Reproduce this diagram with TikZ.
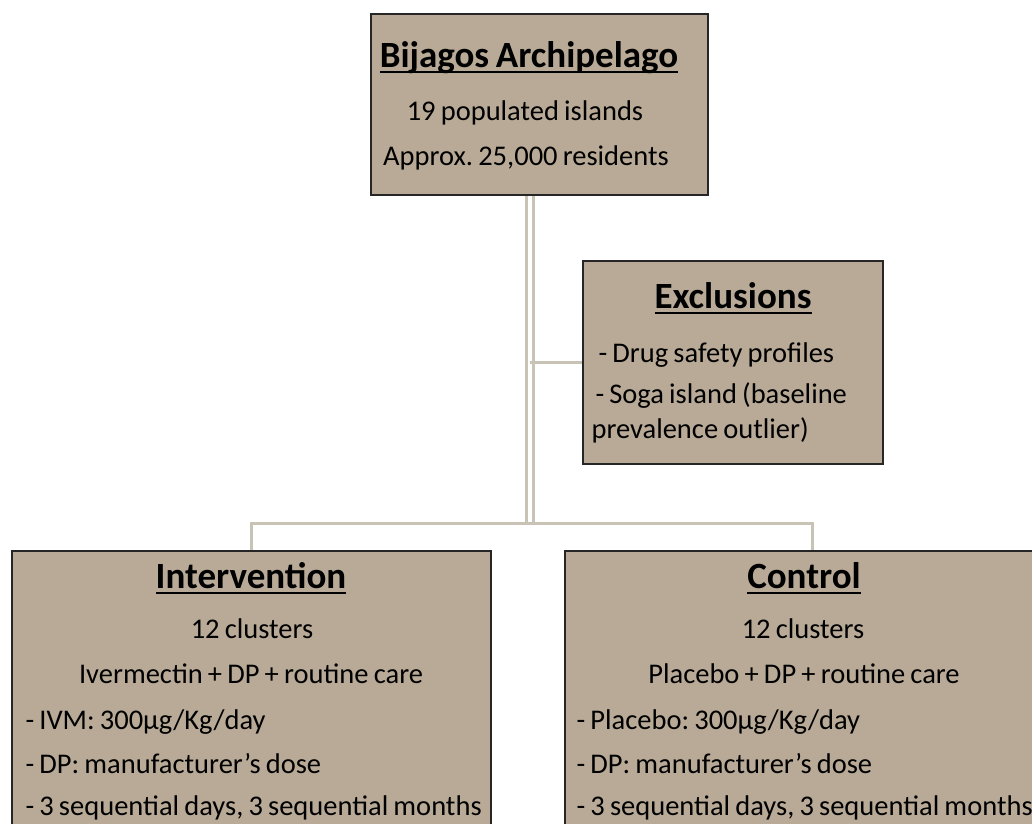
\documentclass[tikz,border=0pt]{standalone}
\usepackage{fontspec}
\setmainfont{Carlito}[WordSpace=0.8]
\usetikzlibrary{positioning}
\definecolor{boxtan}{HTML}{B8AA96}
\definecolor{linkgrey}{HTML}{C9C3B5}
\definecolor{edgedark}{HTML}{262626}
\frenchspacing
% underline that cuts through descenders
\newcommand{\ulbox}[1]{{\setbox0\hbox{#1}\rlap{\rule[-6pt]{\wd0}{2.4pt}}\box0}}

\begin{document}
\begin{tikzpicture}[x=1pt, y=1pt,
    box/.style={draw=edgedark, line width=2pt, fill=boxtan, inner sep=0pt},
    head/.style={font=\fontsize{37}{37}\selectfont\bfseries, anchor=base},
    line/.style={font=\fontsize{28.5}{28.5}\selectfont, anchor=base},
    item/.style={font=\fontsize{28.5}{28.5}\selectfont, anchor=base west},
    link/.style={draw=linkgrey, line width=3pt}]
    \useasboundingbox (0,0) rectangle (1032,-823);

    % ── BOXES ─────────────────────────────────────────────────────────
    \node[box, minimum width=337pt, minimum height=181pt] (top) at (539.5,-104.5) {};
    \node[box, minimum width=300pt, minimum height=203pt] (excl) at (733,-362.5) {};
    \node[box, minimum width=479pt, minimum height=319pt] (interv) at (251.5,-710.5) {};
    \node[box, minimum width=495pt, minimum height=319pt] (ctrl) at (812.5,-710.5) {};

    % ── CONNECTORS ────────────────────────────────────────────────────
    \coordinate (split) at (530,-523);
    \draw[link, double=white, double distance=4pt] (split |- top.south) -- (split);
    \draw[link] (interv.north) |- (split) -| (ctrl.north);
    \draw[link] (split |- excl.west) -- (excl.west);

    % ── TEXT: archipelago ─────────────────────────────────────────────
    \node[head] (topT) at (529,-67) {\ulbox{Bijagos Archipelago}};
    \node[line] (topA) at (525,-120) {19 populated islands};
    \node[line] (topB) at (526,-165) {Approx. 25,000 residents};

    % ── TEXT: exclusions ──────────────────────────────────────────────
    \node[head] (exclT) at (733,-308) {\ulbox{Exclusions}};
    \node[item] (exclA) at (595,-362) {- Drug safety profiles};
    \node[item] (exclB) at (592,-403) {- Soga island (baseline};
    \node[item] (exclC) at (588,-438) {prevalence outlier)};

    % ── TEXT: intervention arm ────────────────────────────────────────
    \node[head] (intT) at (251,-588) {\ulbox{Intervention}};
    \node[line] (intA) at (252,-638) {12 clusters};
    \node[line] (intB) at (251,-683) {Ivermectin + DP + routine care};
    \node[item] (intC) at (22,-729) {- IVM: 300µg/Kg/day};
    \node[item] (intD) at (22,-773) {- DP: manufacturer’s dose};
    \node[item] (intE) at (22,-815) {- 3 sequential days, 3 sequential months};

    % ── TEXT: control arm ─────────────────────────────────────────────
    \node[head] (ctrlT) at (804,-588) {\ulbox{Control}};
    \node[line] (ctrlA) at (803,-638) {12 clusters};
    \node[line] (ctrlB) at (804,-683) {Placebo + DP + routine care};
    \node[item] (ctrlC) at (573,-729) {- Placebo: 300µg/Kg/day};
    \node[item] (ctrlD) at (573,-773) {- DP: manufacturer’s dose};
    \node[item] (ctrlE) at (573,-815) {- 3 sequential days, 3 sequential months};
\end{tikzpicture}
\end{document}
